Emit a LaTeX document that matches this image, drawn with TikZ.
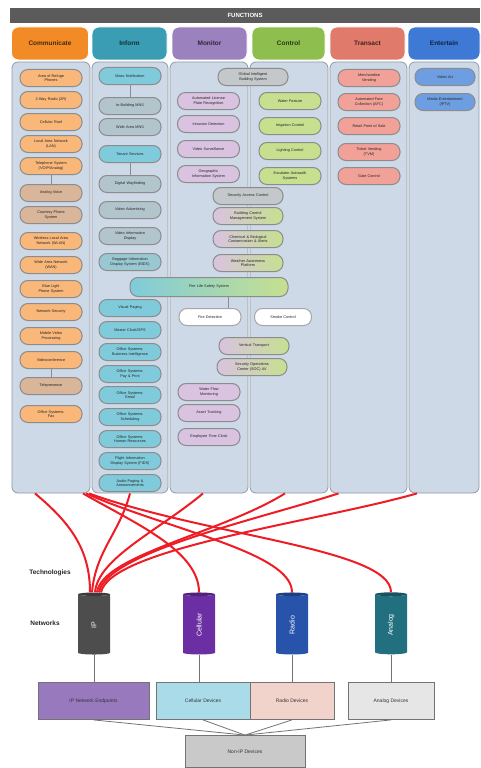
\documentclass[tikz,border=0pt]{standalone}
\usepackage{fontspec}
\setmainfont{Liberation Sans}
\usetikzlibrary{shapes.geometric}

\definecolor{funcgray}{HTML}{5B5B5B}
\definecolor{colfill}{HTML}{CDD9E6}
\definecolor{colline}{HTML}{8F9AA8}
\definecolor{comhead}{HTML}{F28A26}
\definecolor{infhead}{HTML}{3A9DB3}
\definecolor{monhead}{HTML}{9B82BF}
\definecolor{ctlhead}{HTML}{8DBE4E}
\definecolor{trnhead}{HTML}{E07A6B}
\definecolor{enthead}{HTML}{3D79D5}
\definecolor{comfill}{HTML}{F9B77A}
\definecolor{tanfill}{HTML}{D9B699}
\definecolor{inffill}{HTML}{7FCBDB}
\definecolor{infgray}{HTML}{B3C5CC}
\definecolor{monfill}{HTML}{D9C3E0}
\definecolor{ctlfill}{HTML}{C6E08F}
\definecolor{trnfill}{HTML}{F2A198}
\definecolor{entfill}{HTML}{6D9EE2}
\definecolor{pillgray}{HTML}{C4C8CA}
\definecolor{techred}{HTML}{EE1C25}
\definecolor{ipcyl}{HTML}{4D4D4D}
\definecolor{cellcyl}{HTML}{6B2FA3}
\definecolor{radiocyl}{HTML}{2753AA}
\definecolor{analogcyl}{HTML}{216F7F}
\definecolor{ipdevfill}{HTML}{9879BD}
\definecolor{celldevfill}{HTML}{A9DCE8}
\definecolor{radiodevfill}{HTML}{F1D3CB}
\definecolor{analogdevfill}{HTML}{E6E6E6}
\definecolor{nonipfill}{HTML}{C9C9C9}

\tikzset{
  colhead/.style={fill=#1, draw=white, line width=0.8pt, rounded corners=7pt,
    minimum height=33pt, font=\fontsize{6.5}{7}\selectfont\bfseries, text=#1!30!black},
  colbody/.style={fill=colfill, draw=colline, line width=0.8pt, rounded corners=6pt,
    minimum height=431pt},
  pill/.style={draw=black!45, line width=1pt, rounded corners=8pt, text width=56pt,
    align=center, inner xsep=3pt, inner ysep=1pt, minimum height=17pt,
    font=\fontsize{3.8}{4.3}\selectfont, text=black!85},
  compill/.style={pill, fill=comfill},
  tanpill/.style={pill, fill=tanfill},
  infpill/.style={pill, fill=inffill},
  infgraypill/.style={pill, fill=infgray},
  monpill/.style={pill, fill=monfill},
  ctlpill/.style={pill, fill=ctlfill},
  trnpill/.style={pill, fill=trnfill},
  entpill/.style={pill, fill=entfill},
  greypill/.style={pill, fill=pillgray, text width=64pt},
  mixpill/.style={pill, left color=monfill, right color=ctlfill, text width=64pt},
  whitepill/.style={pill, fill=white, draw=black!35},
  netcyl/.style={cylinder, shape border rotate=90, aspect=0.3, draw=none,
    minimum width=32pt, minimum height=62pt, cylinder uses custom fill,
    cylinder body fill=#1, cylinder end fill=#1!75!black, text=white,
    font=\fontsize{7}{8}\selectfont},
  devbox/.style={fill=#1, draw=black!55, line width=0.8pt, minimum height=37pt,
    font=\fontsize{5}{6}\selectfont, text=black!80},
  techlink/.style={techred, line width=2pt},
  thinlink/.style={black!45, line width=0.6pt},
  greylink/.style={black!55, line width=0.8pt}
}

\begin{document}
\begin{tikzpicture}[x=1pt, y=-1pt]
  \useasboundingbox (0,0) rectangle (480,768);

  % header
  \node [fill=funcgray, minimum width=470pt, minimum height=15pt, text=white,
    font=\fontsize{6}{7}\selectfont\bfseries] (func) at (245,15.5) {FUNCTIONS};

  % column bodies
  \node [colbody, minimum width=78pt] (comcol) at (51,277.5) {};
  \node [colbody, minimum width=76pt] (infcol) at (130,277.5) {};
  \node [colbody, minimum width=78pt] (moncol) at (209,277.5) {};
  \node [colbody, minimum width=78pt] (ctlcol) at (289,277.5) {};
  \node [colbody, minimum width=77pt] (trncol) at (368.5,277.5) {};
  \node [colbody, minimum width=70pt] (entcol) at (444,277.5) {};

  % column heads
  \node [colhead=comhead, minimum width=77pt] (comhd) at (50,43.5) {Communicate};
  \node [colhead=infhead, minimum width=75pt] (infhd) at (129.5,43.5) {Inform};
  \node [colhead=monhead, minimum width=75pt] (monhd) at (209.5,43.5) {Monitor};
  \node [colhead=ctlhead, minimum width=73pt] (ctlhd) at (288.5,43.5) {Control};
  \node [colhead=trnhead, minimum width=75pt] (trnhd) at (367.5,43.5) {Transact};
  \node [colhead=enthead, minimum width=72pt] (enthd) at (444,43.5) {Entertain};

  % communicate
  \node [compill] (com1) at (51,78) {Area of Refuge\\Phones};
  \node [compill] (com2) at (51,100) {2-Way Radio (2R)};
  \node [compill] (com3) at (51,122) {Cellular Roof};
  \node [compill] (com4) at (51,144) {Local Area Network\\(LAN)};
  \node [compill] (com5) at (51,166) {Telephone System\\(VOIP/Analog)};
  \node [tanpill] (com6) at (51,193) {Analog Voice};
  \node [tanpill] (com7) at (51,215) {Courtesy Phone\\System};
  \node [compill] (com8) at (51,241) {Wireless Local Area\\Network (WLAN)};
  \node [compill] (com9) at (51,265) {Wide Area Network\\(WAN)};
  \node [compill] (com10) at (51,289) {Blue Light\\Phone System};
  \node [compill] (com11) at (51,312) {Network Security};
  \node [compill] (com12) at (51,336) {Mobile Video\\Processing};
  \node [compill] (com13) at (51,360) {Videoconference};
  \node [tanpill] (com14) at (51,386) {Telepresence};
  \node [compill] (com15) at (51,414) {Office Systems:\\Fax};
  \draw [thinlink] (com5) -- (com6);
  \draw [thinlink] (com13) -- (com14);

  % inform
  \node [infpill] (inf1) at (130,76) {Mass Notification};
  \node [infgraypill] (inf2) at (130,106) {In-Building MNS};
  \node [infgraypill] (inf3) at (130,127) {Wide Area MNS};
  \node [infpill] (inf4) at (130,154) {Tenant Services};
  \node [infgraypill] (inf5) at (130,184) {Digital Wayfinding};
  \node [infgraypill] (inf6) at (130,210) {Video Advertising};
  \node [infgraypill] (inf7) at (130,236) {Video Information\\Display};
  \node [pill, fill=infgray!50!inffill] (inf8) at (130,262) {Baggage Information\\Display System (BIDS)};
  \node [infpill] (inf9) at (130,308) {Visual Paging};
  \node [infpill] (inf10) at (130,330) {Master Clock/GPS};
  \node [infpill] (inf11) at (130,352) {Office Systems:\\Business Intelligence};
  \node [infpill] (inf12) at (130,374) {Office Systems:\\Pay \& Print};
  \node [infpill] (inf13) at (130,395) {Office Systems:\\Email};
  \node [infpill] (inf14) at (130,417) {Office Systems:\\Scheduling};
  \node [infpill] (inf15) at (130,439) {Office Systems:\\Human Resources};
  \node [infpill] (inf16) at (130,461) {Flight Information\\Display System (FIDS)};
  \node [infpill] (inf17) at (130,483) {Audio Paging \&\\Announcements};
  \draw [thinlink] (inf1) -- (inf2);
  \draw [thinlink] (inf4) -- (inf5);

  % monitor and control
  \node [greypill] (glob) at (253,77) {Global Intelligent\\Building System};
  \node [monpill] (mon1) at (208.5,101) {Automated License\\Plate Recognition};
  \node [monpill] (mon2) at (208.5,124) {Intrusion Detection};
  \node [monpill] (mon3) at (208.5,149) {Video Surveillance};
  \node [monpill] (mon4) at (208.5,174) {Geographic\\Information System};
  \node [ctlpill] (ctl1) at (290,101) {Water Feature};
  \node [ctlpill] (ctl2) at (290,126) {Irrigation Control};
  \node [ctlpill] (ctl3) at (290,151) {Lighting Control};
  \node [ctlpill] (ctl4) at (290,176) {Escalator Autowalk\\Systems};
  \node [greypill] (sac) at (248,196) {Security Access Control};
  \node [mixpill] (bcm) at (248,216) {Building Control\\Management System};
  \node [mixpill] (chem) at (248,239) {Chemical \& Biological\\Contamination \& Alerts};
  \node [mixpill] (wap) at (248,263) {Weather Awareness\\Platform};
  \node [pill, left color=inffill, right color=ctlfill, text width=152pt, minimum height=19pt]
    (fls) at (209,287) {Fire Life Safety System};
  \node [whitepill] (fdet) at (210,317) {Fire Detection};
  \node [whitepill, text width=51pt] (smk) at (283,317) {Smoke Control};
  \draw [thinlink] ([xshift=18pt]fdet.north) -- ([xshift=18pt]fdet.north |- fls.south);
  \node [mixpill] (vtr) at (254,346) {Vertical Transport};
  \node [mixpill] (soc) at (252,367) {Security Operations\\Center (SOC) AV};
  \node [monpill] (mon5) at (209,392) {Water Flow\\Monitoring};
  \node [monpill] (mon6) at (209,413) {Asset Tracking};
  \node [monpill] (mon7) at (209,437) {Employee Time Clock};

  % transact
  \node [trnpill] (trn1) at (369,78) {Merchandise\\Vending};
  \node [trnpill] (trn2) at (369,102) {Automated Fare\\Collection (AFC)};
  \node [trnpill] (trn3) at (369,126) {Retail Point of Sale};
  \node [trnpill] (trn4) at (369,152) {Ticket Vending\\(TVM)};
  \node [trnpill] (trn5) at (369,176) {Gate Control};

  % entertain
  \node [entpill, text width=54pt] (ent1) at (445,77) {Video Art};
  \node [entpill, text width=54pt] (ent2) at (445,102) {Media Entertainment\\(IPTV)};

  % networks
  \node [font=\fontsize{6.5}{7}\selectfont\bfseries, text=black!85] (techlbl) at (50,573) {Technologies};
  \node [font=\fontsize{6.5}{7}\selectfont\bfseries, text=black!85] (netlbl) at (45,623) {Networks};
  \node [netcyl=ipcyl] (ip) at (94,625) {\rotatebox{90}{IP}};
  \node [netcyl=cellcyl] (cell) at (199,625) {\rotatebox{90}{Cellular}};
  \node [netcyl=radiocyl] (radio) at (292,625) {\rotatebox{90}{Radio}};
  \node [netcyl=analogcyl] (analog) at (391,625) {\rotatebox{90}{Analog}};

  % red technology links
  \draw [techlink] ([xshift=-4pt]ip.north) to[out=90, in=-40] ([xshift=-16pt]comcol.south);
  \draw [techlink] ([xshift=-2pt]ip.north) to[out=85, in=-105] (infcol.south);
  \draw [techlink] ([xshift=1pt]ip.north) to[out=85, in=-140, out looseness=0.6] ([xshift=-6pt]moncol.south);
  \draw [techlink] ([xshift=3pt]ip.north) to[out=82, in=-148, out looseness=0.45, in looseness=0.9] ([xshift=-4pt]ctlcol.south);
  \draw [techlink] ([xshift=5pt]ip.north) to[out=80, in=-162, out looseness=0.4, in looseness=0.8] ([xshift=-30pt]trncol.south);
  \draw [techlink] ([xshift=7pt]ip.north) to[out=78, in=-164, out looseness=0.35, in looseness=0.8] ([xshift=-27pt]entcol.south);
  \draw [techlink] ([xshift=32pt]comcol.south) to[out=-30, in=90, in looseness=0.7] (cell.north);
  \draw [techlink] ([xshift=35pt]comcol.south) to[out=-24, in=90, in looseness=0.45] (radio.north);
  \draw [techlink] ([xshift=38pt]comcol.south) to[out=-20, in=90, in looseness=0.35] (analog.north);

  % devices
  \node [devbox=ipdevfill, minimum width=111pt] (ipdev) at (93.5,701) {IP Network Endpoints};
  \node [devbox=celldevfill, minimum width=94pt] (celldev) at (203,701) {Cellular Devices};
  \node [devbox=radiodevfill, minimum width=84pt] (radiodev) at (292,701) {Radio Devices};
  \node [devbox=analogdevfill, minimum width=86pt] (analogdev) at (391,701) {Analog Devices};
  \node [devbox=nonipfill, minimum width=120pt, minimum height=32pt] (nonip) at (245,751.5) {Non-IP Devices};

  \draw [greylink] (ip.south) -- (ip.south |- ipdev.north);
  \draw [greylink] (cell.south) -- (cell.south |- celldev.north);
  \draw [greylink] (radio.south) -- (radio.south |- radiodev.north);
  \draw [greylink] (analog.south) -- (analog.south |- analogdev.north);
  \draw [greylink] (ipdev.south) -- (nonip.north);
  \draw [greylink] (celldev.south) -- (nonip.north);
  \draw [greylink] (radiodev.south) -- (nonip.north);
  \draw [greylink] (analogdev.south) -- (nonip.north);
\end{tikzpicture}
\end{document}
